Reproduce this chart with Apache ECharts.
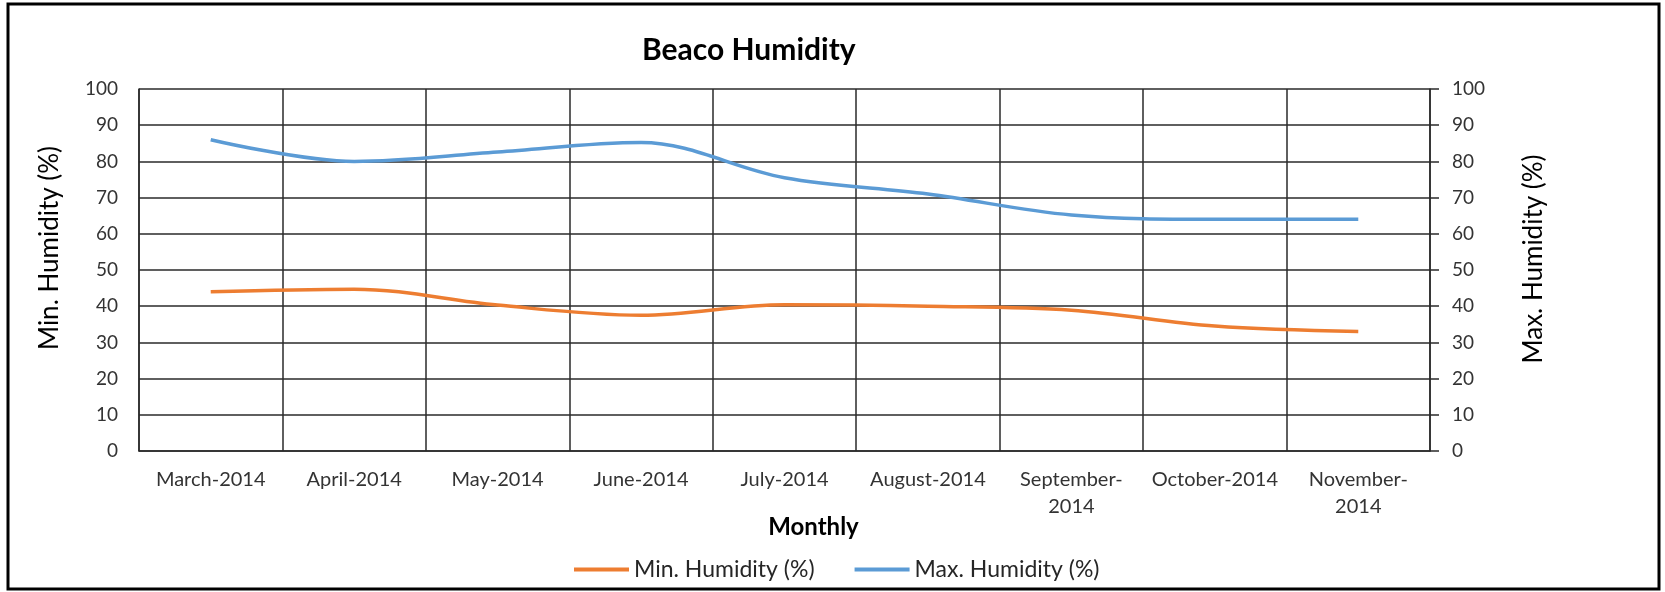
<!DOCTYPE html>
<html>
<head>
<meta charset="utf-8">
<script src="https://cdn.jsdelivr.net/npm/echarts@6/dist/echarts.min.js"></script>
<style>
  html, body { margin: 0; padding: 0; background: #fff; }
  #chart { width: 1665px; height: 592px; }
</style>
</head>
<body>
<div id="chart"></div>
<script>
const months = ['March-2014', 'April-2014', 'May-2014', 'June-2014', 'July-2014', 'August-2014', 'September-2014', 'October-2014', 'November-2014'];
const minHumidity = [44.0, 44.7, 40.3, 37.5, 40.4, 40.0, 38.9, 34.5, 33.0];
const maxHumidity = [86.0, 80.0, 82.6, 85.2, 75.5, 71.0, 65.2, 64.0, 64.0];
const yTicks = [0, 10, 20, 30, 40, 50, 60, 70, 80, 90, 100];

const FONT = 'Lato';
const chart = echarts.init(document.getElementById('chart'), null, { renderer: 'canvas' });

const yMin = yTicks[0], yMax = yTicks[yTicks.length - 1], yStep = yTicks[1] - yTicks[0];

chart.setOption({
  backgroundColor: '#fff',
  animation: false,
  textStyle: { fontFamily: FONT },
  title: {
    text: 'Beaco Humidity',
    left: 642,
    top: 35,
    padding: 0,
    textStyle: { fontFamily: FONT, fontWeight: 'bold', fontSize: 30, color: '#000' }
  },
  legend: {
    data: ['Min. Humidity (%)', 'Max. Humidity (%)'],
    left: 574,
    top: 558,
    padding: 0,
    icon: 'rect',
    itemWidth: 55,
    itemHeight: 4,
    itemGap: 40,
    textStyle: { fontFamily: FONT, fontSize: 23, color: '#262626' }
  },
  graphic: [{
    type: 'rect',
    shape: { x: 8, y: 4, width: 1651, height: 585 },
    style: { fill: 'none', stroke: '#000', lineWidth: 3 },
    silent: true
  }],
  grid: { left: 139, right: 235, top: 89, bottom: 141, containLabel: false },
  xAxis: {
    type: 'category',
    data: months,
    boundaryGap: true,
    name: 'Monthly',
    nameLocation: 'middle',
    nameGap: 64,
    nameMoveOverlap: false,
    nameTextStyle: { fontFamily: FONT, fontWeight: 'bold', fontSize: 24, color: '#000', padding: [0, 0, 0, 58] },
    axisLine: { show: true, lineStyle: { color: '#2a2a2a', width: 1.5 } },
    axisTick: { show: false },
    axisLabel: {
      interval: 0,
      margin: 15,
      fontFamily: FONT,
      fontSize: 20,
      lineHeight: 27,
      color: '#333',
      formatter: v => v.length > 12 ? v.replace('-', '-\n') : v
    },
    splitLine: { show: true, interval: 0, lineStyle: { color: '#2a2a2a', width: 1.5 } }
  },
  yAxis: [{
    type: 'value',
    position: 'left',
    min: yMin, max: yMax, interval: yStep,
    name: 'Min. Humidity (%)',
    nameLocation: 'middle',
    nameRotate: 90,
    nameGap: 89,
    nameMoveOverlap: false,
    nameTextStyle: { fontFamily: FONT, fontSize: 26, color: '#000', padding: [0, 0, 0, 44], verticalAlign: 'middle' },
    axisLine: { show: true, lineStyle: { color: '#2a2a2a', width: 1.5 } },
    axisTick: { show: false },
    axisLabel: { margin: 21, fontFamily: FONT, fontSize: 19, color: '#333' },
    splitLine: { show: true, lineStyle: { color: '#2a2a2a', width: 1.5 } }
  }, {
    type: 'value',
    position: 'right',
    min: yMin, max: yMax, interval: yStep,
    name: 'Max. Humidity (%)',
    nameLocation: 'middle',
    nameRotate: 90,
    nameGap: 104,
    nameMoveOverlap: false,
    nameTextStyle: { fontFamily: FONT, fontSize: 26, color: '#000', padding: [0, 0, 0, 22], verticalAlign: 'middle' },
    axisLine: { show: true, lineStyle: { color: '#2a2a2a', width: 1.5 } },
    axisTick: { show: true, inside: false, length: 9, lineStyle: { color: '#2a2a2a', width: 1.5 } },
    axisLabel: { margin: 22, fontFamily: FONT, fontSize: 19, color: '#333' },
    splitLine: { show: false }
  }],
  series: [{
    name: 'Min. Humidity (%)',
    type: 'line',
    yAxisIndex: 0,
    data: minHumidity,
    smooth: 0.35,
    symbol: 'none',
    lineStyle: { color: '#ED7D31', width: 3.5 },
    itemStyle: { color: '#ED7D31' }
  }, {
    name: 'Max. Humidity (%)',
    type: 'line',
    yAxisIndex: 1,
    data: maxHumidity,
    smooth: 0.35,
    symbol: 'none',
    lineStyle: { color: '#5B9BD5', width: 3.5 },
    itemStyle: { color: '#5B9BD5' }
  }]
});
</script>
</body>
</html>
